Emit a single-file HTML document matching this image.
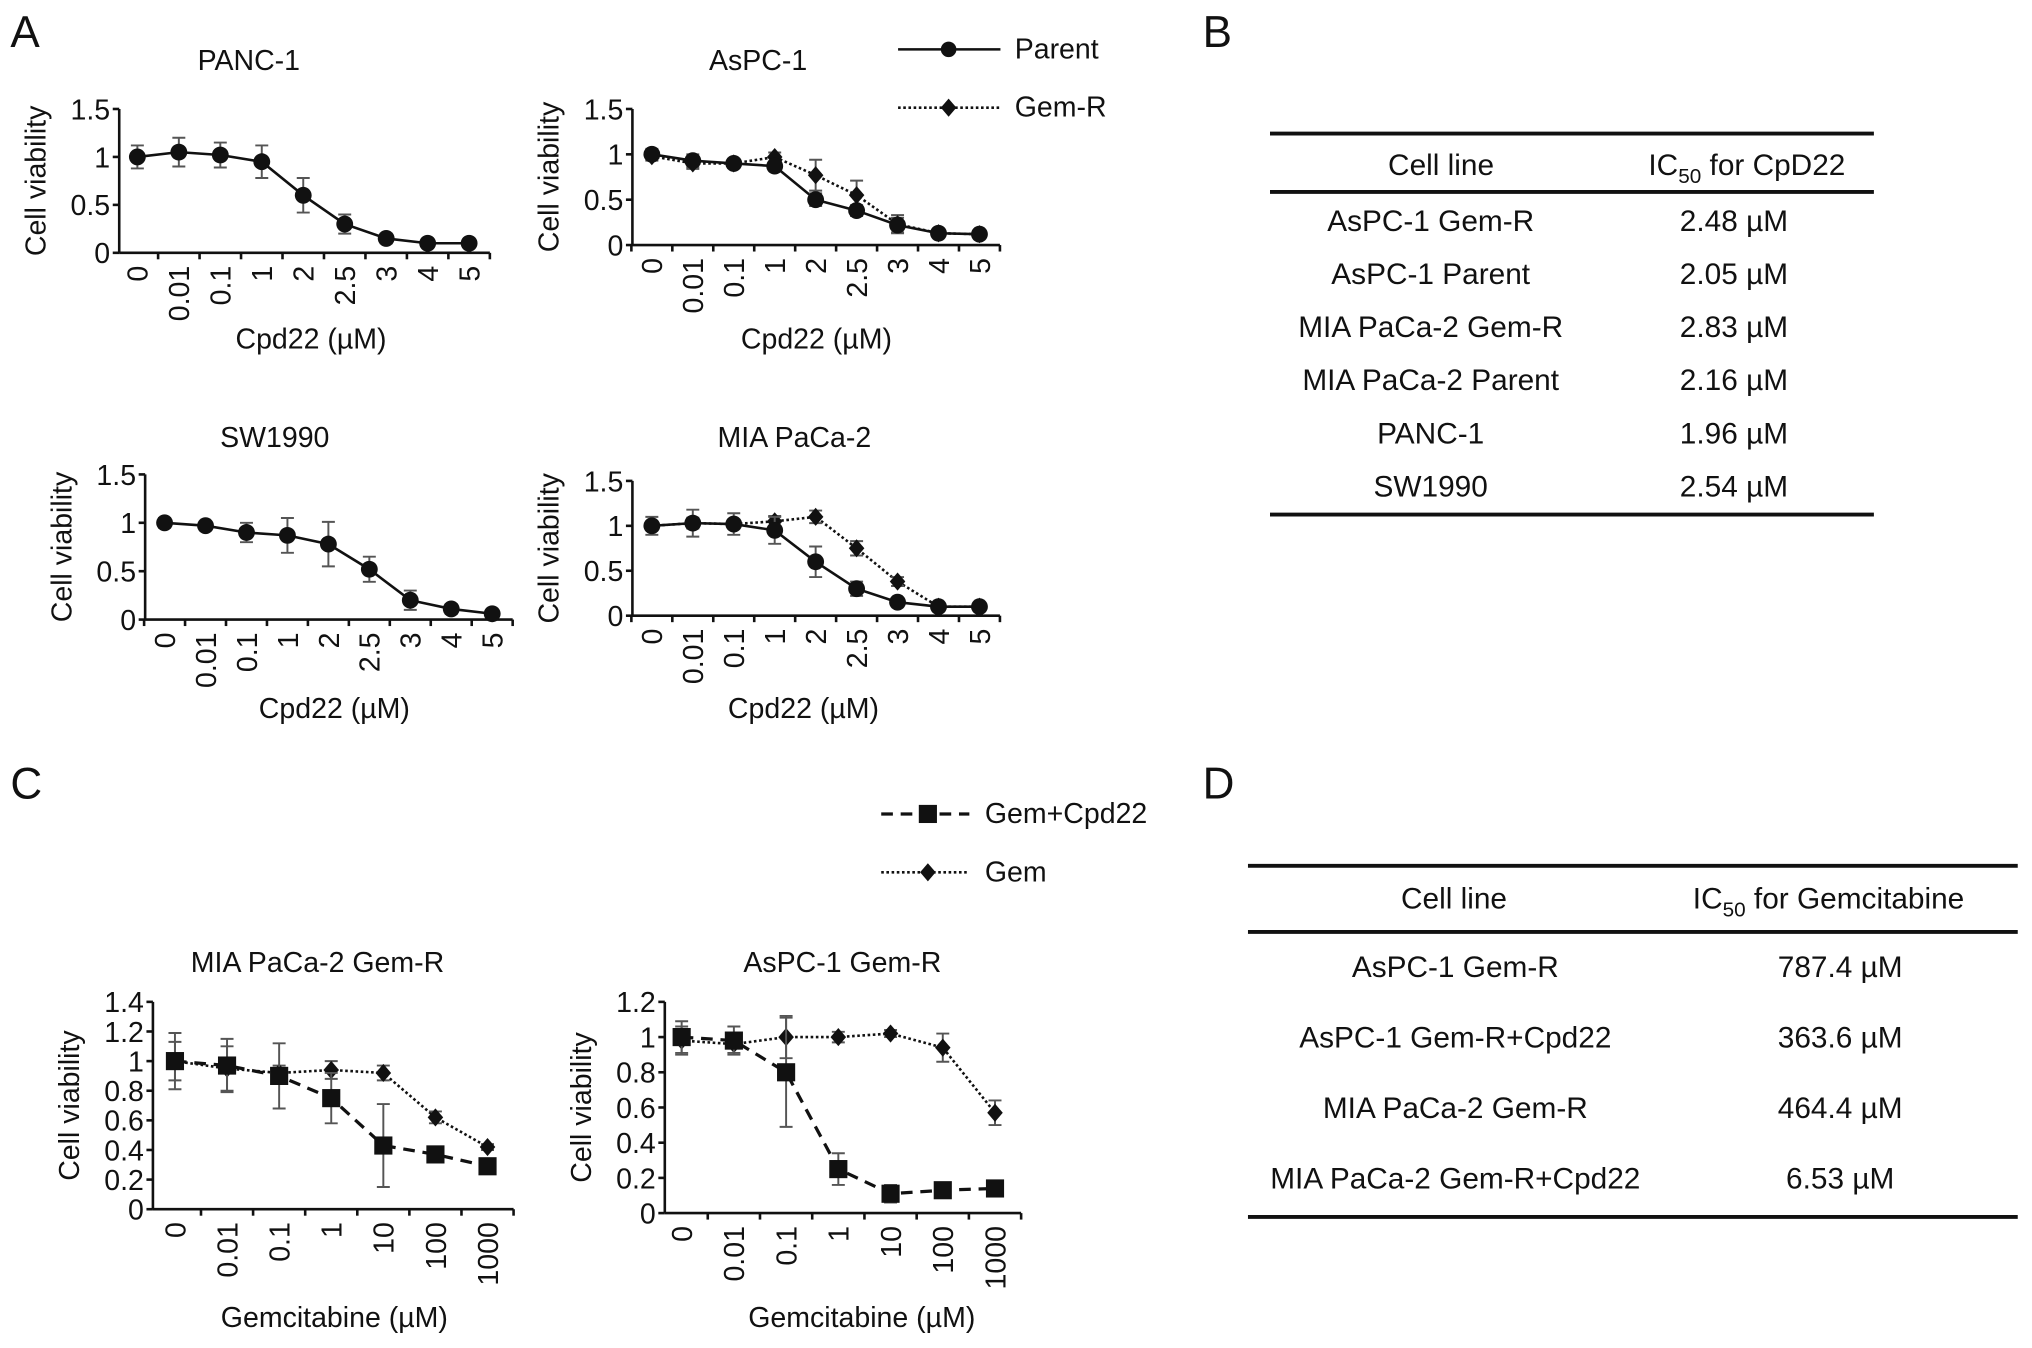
<!DOCTYPE html>
<html><head><meta charset="utf-8"><style>
html,body{margin:0;padding:0;background:#fff;}
svg{display:block;font-family:"Liberation Sans",sans-serif;}
</style></head><body>
<svg id="fig" width="2032" height="1348" viewBox="0 0 1568 1040" xmlns="http://www.w3.org/2000/svg">
<rect width="1568" height="1040" fill="#fff"/>
<g font-size="34" fill="#111">
<text x="8" y="36">A</text>
<text x="928" y="36">B</text>
<text x="8" y="616">C</text>
<text x="928" y="616">D</text>
</g>
<g id="legends" font-size="22" fill="#111">
<g><line x1="693" y1="38" x2="772" y2="38" stroke="#111" stroke-width="2"/><circle cx="732" cy="38" r="6" fill="#111"/><text x="783" y="45">Parent</text></g>
<g><line x1="693" y1="83" x2="772" y2="83" stroke="#111" stroke-width="2" stroke-dasharray="2,2"/><path d="M732 76 L738 83 L732 90 L726 83Z" fill="#111"/><text x="783" y="90">Gem-R</text></g>
<g><line x1="680" y1="628" x2="748" y2="628" stroke="#111" stroke-width="2.5" stroke-dasharray="9,6"/><rect x="709" y="621" width="14" height="14" fill="#111"/><text x="760" y="635">Gem+Cpd22</text></g>
<g><line x1="680" y1="673" x2="748" y2="673" stroke="#111" stroke-width="2" stroke-dasharray="2,2"/><path d="M716 666 L722 673 L716 680 L710 673Z" fill="#111"/><text x="760" y="680">Gem</text></g>
</g>
<g id="charts"></g>
<g id="tables" font-size="23" fill="#111" text-anchor="middle"></g>
</svg>
<script>
const NS="http://www.w3.org/2000/svg";
const cpdCats=["0","0.01","0.1","1","2","2.5","3","4","5"];
const gemCats=["0","0.01","0.1","1","10","100","1000"];
const panc1Parent=[1.0,1.05,1.02,0.95,0.6,0.3,0.15,0.1,0.1];
const panc1ParentErr=[0.12,0.15,0.13,0.17,0.18,0.1,0.05,0.03,0.03];
const aspcParent=[1.0,0.93,0.9,0.87,0.5,0.38,0.22,0.13,0.12];
const aspcParentErr=[0.06,0.07,0.05,0.05,0.07,0.06,0.08,0.04,0.03];
const aspcGemR=[0.98,0.9,0.9,0.97,0.77,0.55,0.23,0.13,0.12];
const aspcGemRErr=[0.05,0.06,0.05,0.05,0.17,0.16,0.1,0.04,0.03];
const swParent=[1.0,0.97,0.9,0.87,0.78,0.52,0.2,0.11,0.06];
const swParentErr=[0.05,0.04,0.1,0.18,0.23,0.13,0.1,0.05,0.03];
const miaParent=[1.0,1.03,1.02,0.95,0.6,0.3,0.15,0.1,0.1];
const miaParentErr=[0.1,0.15,0.12,0.15,0.17,0.08,0.04,0.03,0.03];
const miaGemR=[1.0,1.03,1.02,1.05,1.1,0.75,0.38,0.1,0.1];
const miaGemRErr=[0.05,0.06,0.05,0.06,0.07,0.08,0.05,0.03,0.03];
const miaRCombo=[1.0,0.97,0.9,0.75,0.43,0.37,0.29];
const miaRComboErr=[0.13,0.18,0.22,0.17,0.28,0.03,0.03];
const miaRGem=[1.0,0.95,0.92,0.94,0.92,0.62,0.42];
const miaRGemErr=[0.19,0.15,0.05,0.06,0.05,0.04,0.02];
const aspcRCombo=[1.0,0.98,0.8,0.25,0.11,0.13,0.14];
const aspcRComboErr=[0.09,0.08,0.31,0.09,0.05,0.02,0.02];
const aspcRGem=[0.98,0.96,1.0,1.0,1.02,0.94,0.57];
const aspcRGemErr=[0.08,0.05,0.12,0.03,0.02,0.08,0.07];
const yTicksA=[0,0.5,1,1.5];
const yTicksA_lbl=["0","0.5","1","1.5"];
const yTicksC1=[0,0.2,0.4,0.6,0.8,1,1.2,1.4];
const yTicksC1_lbl=["0","0.2","0.4","0.6","0.8","1","1.2","1.4"];
const yTicksC2=[0,0.2,0.4,0.6,0.8,1,1.2];
const yTicksC2_lbl=["0","0.2","0.4","0.6","0.8","1","1.2"];
const tableBRows=["AsPC-1 Gem-R","AsPC-1 Parent","MIA PaCa-2 Gem-R","MIA PaCa-2 Parent","PANC-1","SW1990"];
const tableBVals=["2.48 µM","2.05 µM","2.83 µM","2.16 µM","1.96 µM","2.54 µM"];
const tableDRows=["AsPC-1 Gem-R","AsPC-1 Gem-R+Cpd22","MIA PaCa-2 Gem-R","MIA PaCa-2 Gem-R+Cpd22"];
const tableDVals=["787.4 µM","363.6 µM","464.4 µM","6.53 µM"];

function mk(tag,attrs,parent){const e=document.createElementNS(NS,tag);for(const k in attrs)e.setAttribute(k,attrs[k]);if(parent)parent.appendChild(e);return e;}
const charts=document.getElementById('charts');
const FS=22;
function chart(o){
  const g=mk('g',{},charts);
  
  
  const n=o.cats.length;
  const xs=i=>o.x0+i*o.dx;
  const ys=v=>o.yb-(v/o.ymax)*(o.yb-o.yt);
  const ax=mk('g',{stroke:'#111','stroke-width':2,fill:'none'},g);
  
  
  const xEnd=xs(n-1)+o.dx/2;
  mk('line',{x1:o.ax,y1:o.yt,x2:o.ax,y2:o.yb},ax);
  mk('line',{x1:o.ax,y1:o.yb,x2:xEnd,y2:o.yb},ax);
  o.yt_.forEach((t,i)=>{
    const y=ys(t);
    mk('line',{x1:o.ax-5,y1:y,x2:o.ax,y2:y},ax);
    const tx=mk('text',{x:o.ax-7,y:y+8,'text-anchor':'end','font-size':FS,fill:'#111',stroke:'none'},g);
    
    
    tx.textContent=o.ytl[i];
  });
  for(let i=0;i<=n;i++){const x=xs(i)-o.dx/2;if(x>=o.ax-1)mk('line',{x1:x,y1:o.yb,x2:x,y2:o.yb+5},ax);}
  o.cats.forEach((c,i)=>{
    const x=xs(i);
    const tx=mk('text',{x:0,y:0,'text-anchor':'end','font-size':FS,fill:'#111',transform:`translate(${x+8},${o.yb+10}) rotate(-90)`},g);
    
    
    tx.textContent=c;
  });
  const t=mk('text',{x:o.tx,y:o.ty,'text-anchor':'middle','font-size':FS,fill:'#111'},g);
  
  
  t.textContent=o.title;
  const xt=mk('text',{x:o.xtx,y:o.xty,'text-anchor':'middle','font-size':FS,fill:'#111'},g);
  
  
  xt.textContent=o.xtitle;
  const yc=(o.yt+o.yb)/2;
  const yt=mk('text',{x:0,y:0,'text-anchor':'middle','font-size':FS,fill:'#111',transform:`translate(${o.ax-57},${yc}) rotate(-90)`},g);
  
  
  yt.textContent='Cell viability';
  o.series.forEach(s=>{
    const sg=mk('g',{},g);
    
    
    const pts=s.v.map((v,i)=>xs(i)+','+ys(v)).join(' ');
    const dash=s.style==='dot'?'2,2':(s.style==='dash'?'9,6':'none');
    mk('polyline',{points:pts,fill:'none',stroke:'#111','stroke-width':s.style==='dash'?2.5:2,'stroke-dasharray':dash},sg);
    s.v.forEach((v,i)=>{
      const x=xs(i),y=ys(v),e=s.e[i];
      const eb=mk('path',{d:`M${x},${ys(v+e)}V${ys(v-e)}M${x-5},${ys(v+e)}H${x+5}M${x-5},${ys(v-e)}H${x+5}`,stroke:'#555','stroke-width':1.5,fill:'none'},sg);
      
      
      let m;
      if(s.marker==='circle')m=mk('circle',{cx:x,cy:y,r:6.5,fill:'#111'},sg);
      else if(s.marker==='square')m=mk('rect',{x:x-7,y:y-7,width:14,height:14,fill:'#111'},sg);
      else m=mk('path',{d:`M${x},${y-7}L${x+6},${y}L${x},${y+7}L${x-6},${y}Z`,fill:'#111'},sg);
      
      
    });
  });
}
const cpdX='Cpd22 (µM)', gemX='Gemcitabine (µM)';
chart({name:'chart-panc1',cats:cpdCats,x0:106,dx:32,ax:92,yt:84,yb:195,ymax:1.5,yt_:yTicksA,ytl:yTicksA_lbl,title:'PANC-1',tx:192,ty:54,xtitle:cpdX,xtx:240,xty:269,
 series:[{name:'series-parent',v:panc1Parent,e:panc1ParentErr,style:'solid',marker:'circle'}]});
chart({name:'chart-aspc1',cats:cpdCats,x0:503,dx:31.6,ax:488,yt:84,yb:189,ymax:1.5,yt_:yTicksA,ytl:yTicksA_lbl,title:'AsPC-1',tx:585,ty:54,xtitle:cpdX,xtx:630,xty:269,
 series:[{name:'series-gem-r',v:aspcGemR,e:aspcGemRErr,style:'dot',marker:'diamond'},{name:'series-parent',v:aspcParent,e:aspcParentErr,style:'solid',marker:'circle'}]});
chart({name:'chart-sw1990',cats:cpdCats,x0:127,dx:31.6,ax:112,yt:366,yb:478,ymax:1.5,yt_:yTicksA,ytl:yTicksA_lbl,title:'SW1990',tx:212,ty:345,xtitle:cpdX,xtx:258,xty:554,
 series:[{name:'series-parent',v:swParent,e:swParentErr,style:'solid',marker:'circle'}]});
chart({name:'chart-mia-paca2',cats:cpdCats,x0:503,dx:31.6,ax:488,yt:371,yb:475,ymax:1.5,yt_:yTicksA,ytl:yTicksA_lbl,title:'MIA PaCa-2',tx:613,ty:345,xtitle:cpdX,xtx:620,xty:554,
 series:[{name:'series-gem-r',v:miaGemR,e:miaGemRErr,style:'dot',marker:'diamond'},{name:'series-parent',v:miaParent,e:miaParentErr,style:'solid',marker:'circle'}]});
chart({name:'chart-mia-gem-r',cats:gemCats,x0:135,dx:40.2,ax:118,yt:773,yb:933,ymax:1.4,yt_:yTicksC1,ytl:yTicksC1_lbl,title:'MIA PaCa-2 Gem-R',tx:245,ty:750,xtitle:gemX,xtx:258,xty:1024,
 series:[{name:'series-gem',v:miaRGem,e:miaRGemErr,style:'dot',marker:'diamond'},{name:'series-gem-cpd22',v:miaRCombo,e:miaRComboErr,style:'dash',marker:'square'}]});
chart({name:'chart-aspc1-gem-r',cats:gemCats,x0:526,dx:40.3,ax:513,yt:773,yb:936,ymax:1.2,yt_:yTicksC2,ytl:yTicksC2_lbl,title:'AsPC-1 Gem-R',tx:650,ty:750,xtitle:gemX,xtx:665,xty:1024,
 series:[{name:'series-gem',v:aspcRGem,e:aspcRGemErr,style:'dot',marker:'diamond'},{name:'series-gem-cpd22',v:aspcRCombo,e:aspcRComboErr,style:'dash',marker:'square'}]});

const tables=document.getElementById('tables');
function table(o){
  const g=mk('g',{},tables);
  
  
  [o.top,o.mid,o.bot].forEach(y=>mk('line',{x1:o.x1,y1:y,x2:o.x2,y2:y,stroke:'#111','stroke-width':3},g));
  const h1=mk('text',{x:o.h1x,y:o.hy+8},g);h1.textContent='Cell line';
  
  
  const h2=mk('text',{x:o.h2x,y:o.hy+8},g);
  
  
  h2.innerHTML='IC<tspan font-size="16" dy="6">50</tspan><tspan dy="-6"> '+o.h2+'</tspan>';
  o.rows.forEach((r,i)=>{
    const y=o.r0+i*o.dr+8;
    const a=mk('text',{x:o.c1,y:y},g);a.textContent=r;
    
    
    const b=mk('text',{x:o.c2,y:y},g);b.textContent=o.vals[i];
    
    
  });
}
table({name:'table-ic50-cpd22',x1:980,x2:1446,top:103,mid:148,bot:397,hy:127,h1x:1112,h2x:1348,h2:'for CpD22',rows:tableBRows,vals:tableBVals,r0:170,dr:41,c1:1104,c2:1338});
table({name:'table-ic50-gemcitabine',x1:963,x2:1557,top:668,mid:719,bot:939,hy:693,h1x:1122,h2x:1411,h2:'for Gemcitabine',rows:tableDRows,vals:tableDVals,r0:746,dr:54.3,c1:1123,c2:1420});
</script>
</body></html>
